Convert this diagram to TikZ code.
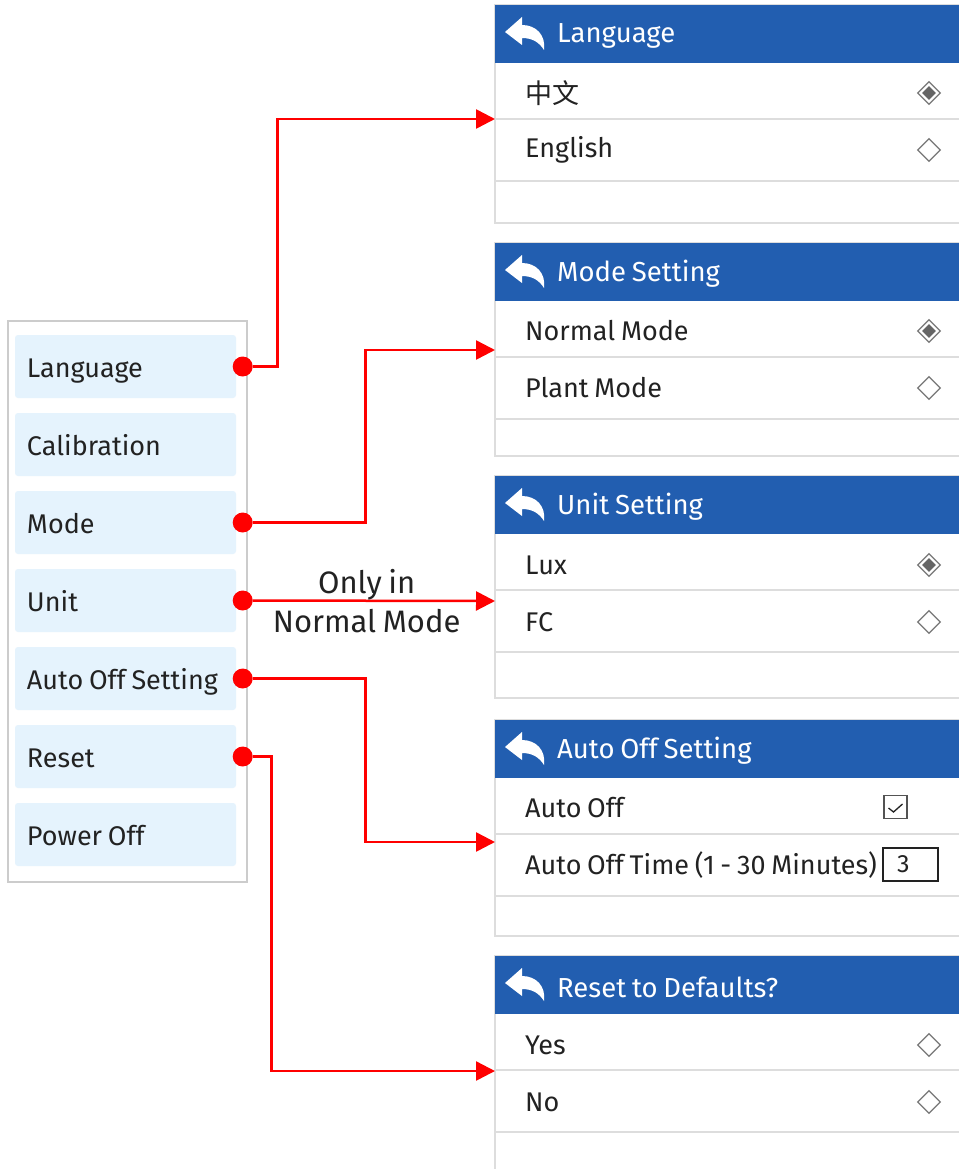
\documentclass[tikz,border=0pt]{standalone}
\usepackage{fontspec}
\setmainfont{Fira Sans}[WordSpace=0.8]
\newfontfamily\cjk{Noto Sans CJK SC}
\usetikzlibrary{positioning, calc, arrows.meta, shapes.geometric}

\definecolor{hdrblue}{HTML}{225EB0}
\definecolor{itemfill}{HTML}{E5F3FD}
\definecolor{framegray}{HTML}{CCCCCC}
\definecolor{sepgray}{HTML}{DDDDDD}
\definecolor{inkgray}{HTML}{222222}
\definecolor{radiogray}{HTML}{777777}
\definecolor{linkred}{HTML}{FF0000}

\tikzset{
  uitext/.style={font=\fontsize{27}{31}\selectfont, text=inkgray},
  menuframe/.style={rectangle, draw=framegray, line width=1.2pt, fill=white, minimum width=239pt, minimum height=561pt},
  menuitem/.style={rectangle, fill=itemfill, rounded corners=3pt, minimum width=221pt, minimum height=63pt, inner xsep=12pt, text height=25pt, text depth=3pt, uitext},
  dot/.style={circle, fill=linkred, minimum size=20pt, inner sep=0pt},
  link/.style={draw=linkred, line width=2.5pt, -{Triangle[length=19pt, width=19pt]}},
  linklabel/.style={font=\fontsize{31}{39}\selectfont, text=inkgray, align=center},
  panelframe/.style={draw=sepgray, line width=1.5pt, fill=white},
  header/.style={rectangle, fill=hdrblue, minimum width=470pt, minimum height=58pt, inner sep=0pt},
  hdrtitle/.style={anchor=west, inner sep=0pt, font=\fontsize{27.5}{31}\selectfont, text=white},
  sepline/.style={draw=sepgray, line width=1.5pt},
  rowtext/.style={anchor=west, inner sep=0pt, uitext},
  radio/.style={diamond, draw=radiogray, line width=1.2pt, fill=white, minimum size=23pt, inner sep=0pt},
  radiodot/.style={diamond, fill=radiogray!85!black, minimum size=14pt, inner sep=0pt},
  checkbox/.style={rectangle, draw=radiogray!70!black, line width=1.2pt, minimum size=23pt, inner sep=0pt},
  valuebox/.style={rectangle, draw=inkgray, line width=1.2pt, minimum width=55pt, minimum height=33pt, text width=27pt, inner xsep=14pt, align=left, font=\fontsize{25}{28}\selectfont, text=inkgray}
}

\begin{document}
\begin{tikzpicture}[x=1pt, y=-1pt]
  \useasboundingbox (0,0) rectangle (958,1169);

  % main menu
  \node[menuframe] (menu) at (127.5,601.5) {};
  \foreach \nm/\txt [count=\i] in {lang/Language, cal/Calibration, mode/Mode, unit/Unit, auto/Auto Off Setting, reset/Reset, power/Power Off}
    \node[menuitem] (\nm) at (125.5,288.5+78*\i) {\makebox[197pt][l]{\txt}};

  \foreach \nm in {lang, mode, unit, auto, reset}
    \node[dot] (d\nm) at ([xshift=6.5pt]\nm.east) {};

  % sub menus
  \foreach \nm/\t/\b/\ttl in {lang/5/223/Language, mode/243/456/Mode Setting, unit/476/698/Unit Setting, auto/720/936/Auto Off Setting, reset/956/1190/Reset to Defaults?} {
    \draw[panelframe] (495,\t) rectangle (966,\b);
    \node[header, anchor=north west] (h\nm) at (495,\t) {};
    \begin{scope}[shift={(505,\t+27)}]
      \fill[white] (0,0) -- (17,-15) -- (17,-7) .. controls (31,-7) and (41,3) .. (39,18)
        .. controls (34,10) and (27,6) .. (17,6) -- (17,13) -- cycle;
    \end{scope}
    \node[hdrtitle] (t\nm) at (557,\t+31) {\ttl};
    \draw[sepline] (495,\t+114) -- (966,\t+114);
    \draw[sepline] (495,\t+176) -- (966,\t+176);
  }

  \node[rowtext] (r1lang) at (525,93) {\cjk 中文};
  \node[rowtext] (r2lang) at (525,150) {English};
  \node[radio] (o1lang) at (929,93) {};
  \node[radiodot] (s1lang) at (o1lang) {};
  \node[radio] (o2lang) at (929,150) {};

  \node[rowtext] (r1mode) at (525,331) {Normal Mode};
  \node[rowtext] (r2mode) at (525,388) {Plant Mode};
  \node[radio] (o1mode) at (929,331) {};
  \node[radiodot] (s1mode) at (o1mode) {};
  \node[radio] (o2mode) at (929,388) {};

  \node[rowtext] (r1unit) at (525,565) {Lux};
  \node[rowtext] (r2unit) at (525,622) {FC};
  \node[radio] (o1unit) at (929,565) {};
  \node[radiodot] (s1unit) at (o1unit) {};
  \node[radio] (o2unit) at (929,622) {};

  \node[rowtext] (r1auto) at (525,808) {Auto Off};
  \node[rowtext] (r2auto) at (525,865) {Auto Off Time (1 - 30 Minutes)};
  \node[checkbox] (cbauto) at (895.5,807) {};
  \draw[inkgray, line width=1.3pt] ([shift={(-7,1)}]cbauto.center) -- ([shift={(-2,5)}]cbauto.center) -- ([shift={(7,-3)}]cbauto.center);
  \node[valuebox] (vbauto) at (910.5,864.5) {3};

  \node[rowtext] (r1reset) at (525,1045) {Yes};
  \node[rowtext] (r2reset) at (525,1102) {No};
  \node[radio] (o1reset) at (929,1045) {};
  \node[radio] (o2reset) at (929,1102) {};

  % connectors
  \coordinate (alang) at (495,119);
  \coordinate (amode) at (495,350);
  \coordinate (aunit) at (495,601);
  \coordinate (aauto) at (495,842);
  \coordinate (areset) at (495,1071);

  \draw[link] (dlang) -- ++(35,0) |- (alang);
  \draw[link] (dmode) -- ++(123,0) |- (amode);
  \draw[link] (dunit) -- node[linklabel, pos=0.47] (only) {Only in\\Normal Mode} (aunit);
  \draw[link] (dauto) -- ++(123,0) |- (aauto);
  \draw[link] (dreset) -- ++(29,0) |- (areset);
\end{tikzpicture}
\end{document}
